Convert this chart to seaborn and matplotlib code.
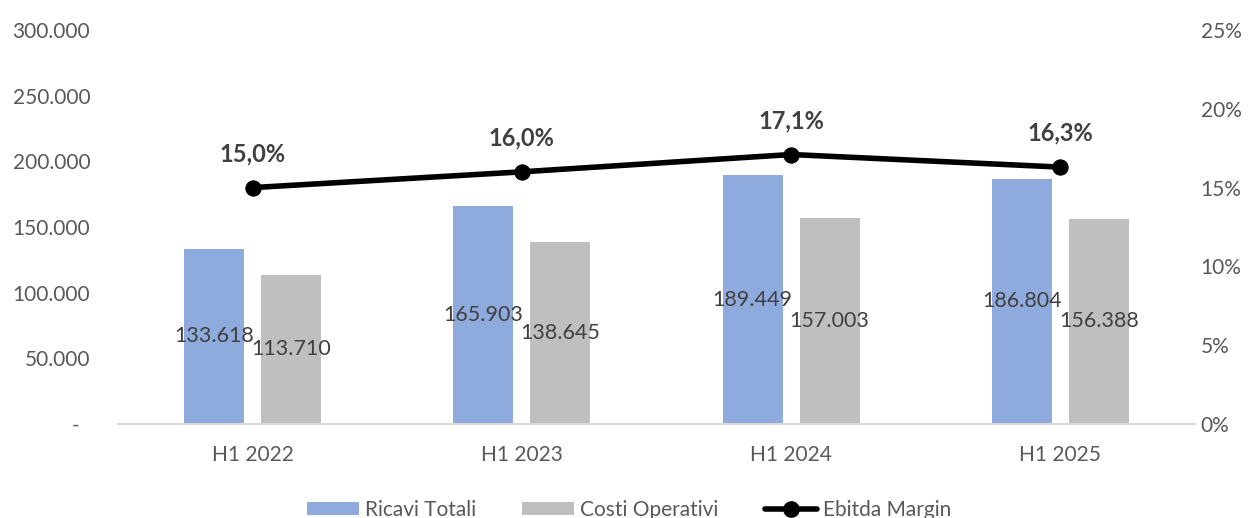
import numpy as np
import pandas as pd
import matplotlib
matplotlib.use("Agg")
import matplotlib.pyplot as plt
import seaborn as sns
from matplotlib.lines import Line2D
from matplotlib.patches import Patch

periods = ["H1 2022", "H1 2023", "H1 2024", "H1 2025"]
ricavi = [133618, 165903, 189449, 186804]
costi = [113710, 138645, 157003, 156388]
ebitda_margin = [0.150, 0.160, 0.171, 0.163]
left_ticks = [0, 50000, 100000, 150000, 200000, 250000, 300000]
left_labels = ["-  ", "50.000", "100.000", "150.000", "200.000", "250.000", "300.000"]
right_ticks = [0, 0.05, 0.10, 0.15, 0.20, 0.25]
right_labels = ["0%", "5%", "10%", "15%", "20%", "25%"]
series_names = ["Ricavi Totali", "Costi Operativi", "Ebitda Margin"]

sns.set_theme(style="white")
plt.rcParams["font.family"] = ["Lato", "DejaVu Sans"]

TXT = "#595959"
BLUE = "#8FAADC"
GRAY = "#BFBFBF"

df = pd.DataFrame({
    "period": periods * 2,
    "value": ricavi + costi,
    "serie": [series_names[0]] * 4 + [series_names[1]] * 4,
})

fig = plt.figure(figsize=(12.58, 5.18), dpi=100)
ax = fig.add_axes([118 / 1258, 1 - 424 / 518, (1195 - 118) / 1258, (424 - 30) / 518])

sns.barplot(data=df, x="period", y="value", hue="serie", order=periods,
            hue_order=series_names[:2], palette=[BLUE, GRAY], width=0.572,
            gap=0.22, ax=ax, legend=False, saturation=1, edgecolor="none")

ax.set_xlim(-0.5, len(periods) - 0.5)
ax.set_ylim(0, 300000)
ax.set_yticks(left_ticks)
ax.set_yticklabels(left_labels)
ax.set_xlabel("")
ax.set_ylabel("")
for s in ["top", "right", "left"]:
    ax.spines[s].set_visible(False)
ax.spines["bottom"].set_color("#D9D9D9")
ax.spines["bottom"].set_linewidth(1.5)
ax.tick_params(axis="y", length=0, pad=20, labelsize=15, labelcolor=TXT)
ax.tick_params(axis="x", length=0, pad=15, labelsize=15, labelcolor=TXT)

for cont in ax.containers:
    for rect in cont:
        h = rect.get_height()
        ax.text(rect.get_x() + rect.get_width() / 2, h / 2,
                f"{int(round(h)):,}".replace(",", "."),
                ha="center", va="center", fontsize=15.5, color="#404040")

ax2 = ax.twinx()
ax2.set_position(ax.get_position())
ldf = pd.DataFrame({"x": np.arange(len(periods)), "m": ebitda_margin})
sns.lineplot(data=ldf, x="x", y="m", ax=ax2, color="black", linewidth=4,
             marker="o", markersize=11, markeredgecolor="black")
ax2.set_ylim(0, 0.25)
ax2.set_yticks(right_ticks)
ax2.set_yticklabels(right_labels)
ax2.set_ylabel("")
ax2.set_xlabel("")
for s in ["top", "right", "left", "bottom"]:
    ax2.spines[s].set_visible(False)
ax2.tick_params(axis="y", length=0, pad=4, labelsize=15, labelcolor=TXT)
for i, m in enumerate(ebitda_margin):
    ax2.annotate(f"{m * 100:.1f}%".replace(".", ","), (i, m),
                 xytext=(0, 16), textcoords="offset points",
                 ha="center", va="bottom", fontsize=17, fontweight="bold",
                 color="#404040")

handles = [Patch(facecolor=BLUE, edgecolor="none"),
           Patch(facecolor=GRAY, edgecolor="none"),
           Line2D([0], [0], color="black", linewidth=4, marker="o", markersize=11)]
fig.legend(handles, series_names, loc="lower center", bbox_to_anchor=(0.5, -0.04),
           ncol=3, frameon=False, fontsize=15, labelcolor=TXT,
           handlelength=2.5, handleheight=0.6, handletextpad=0.3, columnspacing=2.2)

fig.savefig("out.png", dpi=100)
